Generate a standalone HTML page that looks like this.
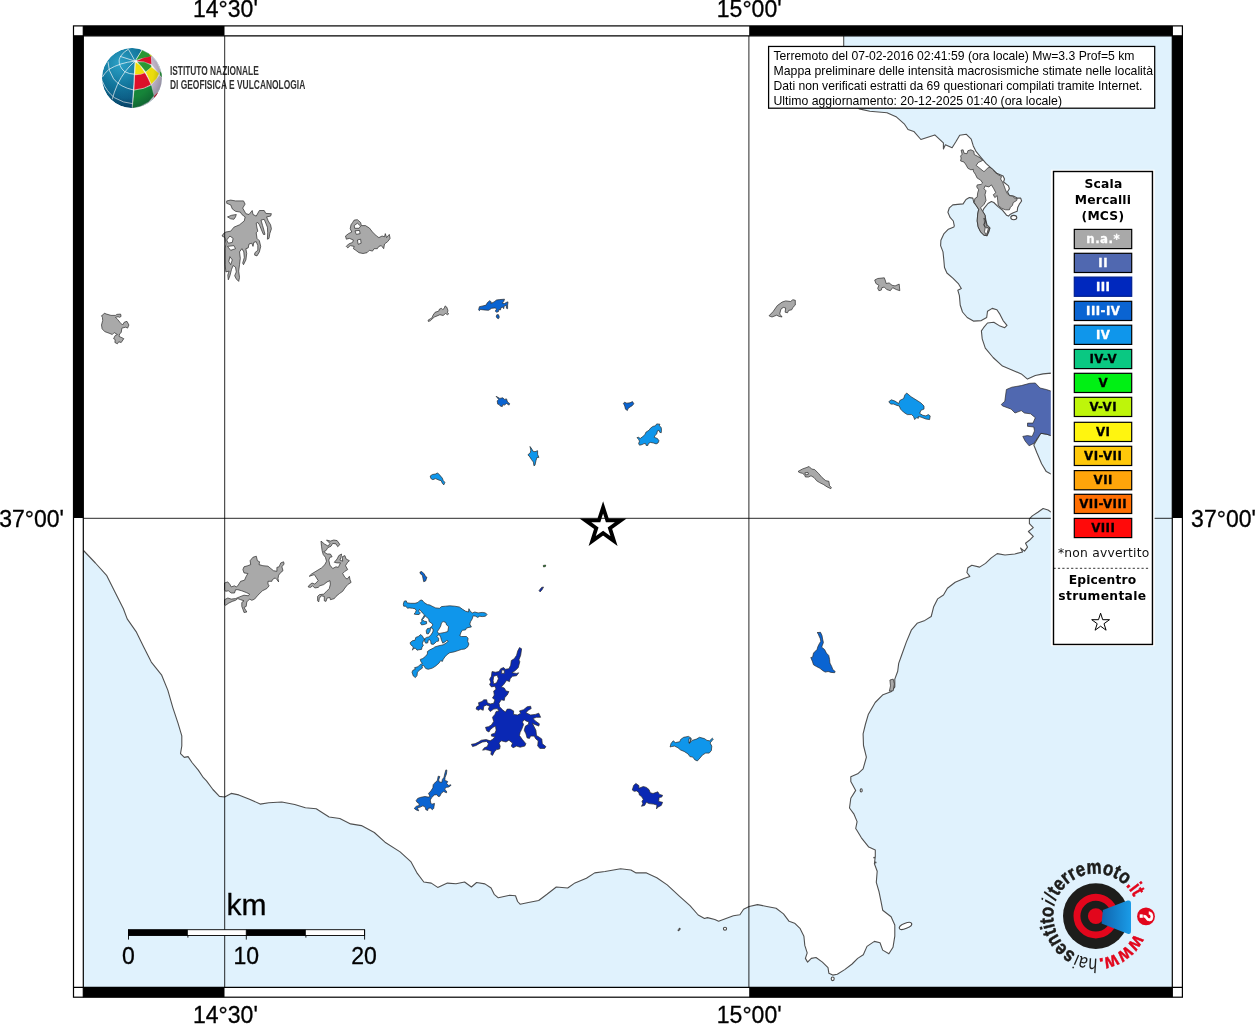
<!DOCTYPE html>
<html lang="it"><head><meta charset="utf-8"><title>Mappa intensit&agrave; macrosismiche</title>
<style>html,body{margin:0;padding:0;background:#fff}body{width:1255px;height:1024px;overflow:hidden}svg{display:block}.h{font-family:"Liberation Sans",Arial,Helvetica,sans-serif}.d{font-family:"DejaVu Sans","Liberation Sans",sans-serif}</style></head><body>
<svg width="1255" height="1024" viewBox="0 0 1255 1024">
<rect width="1255" height="1024" fill="#fff"/>
<defs><clipPath id="mapclip"><rect x="83.3" y="35.8" width="1089" height="951.5"/></clipPath>

<radialGradient id="gblue" cx="0.3" cy="0.25" r="0.85"><stop offset="0" stop-color="#2da4ca"/><stop offset="0.45" stop-color="#12789f"/><stop offset="1" stop-color="#074873"/></radialGradient>
<radialGradient id="gshade" cx="0.42" cy="0.4" r="0.62"><stop offset="0" stop-color="#001020" stop-opacity="0"/><stop offset="0.7" stop-color="#001020" stop-opacity="0.04"/><stop offset="1" stop-color="#001020" stop-opacity="0.3"/></radialGradient>
<clipPath id="gclip"><circle cx="512" cy="512" r="452"/></clipPath>
<linearGradient id="wedge" x1="0" y1="0" x2="1" y2="0"><stop offset="0" stop-color="#0f64ad"/><stop offset="1" stop-color="#1a9ce8"/></linearGradient>

</defs>
<g clip-path="url(#mapclip)">
<path d="M83.5,550.5 L95.4,563 L106.8,575.7 L115.7,593.5 L123.4,608.8 L127.2,618.9 L136.1,631.6 L143.7,646.9 L151.3,662.1 L161.5,674.8 L167.8,690.1 L172.9,707.8 L178,723.1 L181.8,735.8 L181.8,746 L180.5,753.6 L184.3,757.4 L188.1,756.6 L192,762.5 L198.3,770.1 L203.4,777.7 L206.5,780.9 L212.9,789.5 L219.4,796.4 L224.7,797 L231.2,793.4 L238.7,794.9 L249.5,799.2 L260.2,804.1 L268.8,802.8 L281.8,802 L294.7,804.5 L305.4,807.8 L316.2,808.8 L329.1,817 L339.8,818.5 L350.6,823.9 L361.4,825.6 L374.3,832.5 L385,842.2 L400.1,851.9 L410.8,861.6 L417.3,873.4 L423.8,882 L431.3,883.1 L437.7,887.4 L447.4,883.1 L456,883.7 L464.6,882 L468,884.5 L471.4,887 L476.6,882.5 L484.9,883.9 L491.1,888 L494.2,894.3 L498.3,897.8 L509.7,895.3 L515.5,895.7 L517.6,901.5 L520.1,904.2 L528.4,902.5 L538.7,900.5 L547,894.3 L556.3,887 L567.7,888 L575,882.9 L586.4,878.3 L594.7,872.9 L605,871.5 L620.6,868.8 L630.9,870 L636.1,872.9 L646.5,872.9 L656.8,877.7 L667.2,884.9 L679.6,896.3 L690,905.7 L698.2,915 L704.5,918.5 L707.4,917.6 L714.8,919.5 L718.6,921.3 L726,918.5 L733.4,915.8 L739.9,914.8 L743.6,909.3 L749.2,906.5 L757.5,904.6 L766.8,906.5 L776.1,908.3 L783.5,913.9 L789.1,921.3 L794.6,923.2 L800.2,928.7 L803.9,936.2 L804.8,945.4 L807.2,952.9 L805.4,958.4 L807.6,962.1 L811.3,958.4 L816,957.5 L822.4,962.1 L828,967.7 L828.9,973.3 L832.7,975.1 L837.3,974.2 L844.7,969.6 L852.1,964 L857.7,958.4 L863.3,954.7 L867,946.4 L874.4,941.4 L880,942.7 L882.7,950.1 L888.9,953.8 L893,947.3 L894.8,936.2 L894.8,925 L891.1,916.7 L882.7,910.2 L880.9,900.9 L879,891.6 L876.3,882.4 L877.2,871.2 L874.4,863.8 L875.3,856.4 L875.3,849.9 L868.8,847.1 L861.4,837.8 L857,830.5 L855.7,828.5 L857.1,821.6 L853.8,813.8 L849.5,808 L850.8,798.2 L855.7,790.4 L850.8,781.6 L850.8,776.7 L857.7,773.8 L863.1,768.9 L866.4,757.2 L863.5,745.5 L863.1,733.8 L865.5,724 L868.4,714.2 L875.2,702.5 L883,694.7 L890.9,691.8 L894.8,686.9 L894.8,679.1 L897.7,671.3 L898.7,663.4 L901.5,655.5 L906.4,641.9 L911.3,630.2 L917.1,623.3 L924.9,620.4 L931.2,616.5 L933.7,606.7 L937.6,598.9 L943.5,595 L947.4,588.2 L955.2,582.3 L964,578.4 L969.8,576.4 L966.9,572.5 L967.9,567.7 L971.8,565.3 L979.6,567.1 L985.5,563.4 L991.3,557.9 L997.2,553.6 L1005,555 L1014.8,554 L1022.6,552 L1020.6,548.1 L1024.5,551.1 L1027.5,547.1 L1025.5,543.2 L1029.4,540.3 L1033.3,536.4 L1028.4,531.5 L1033.3,527.6 L1029.4,523.7 L1029.4,518.8 L1032.3,515.9 L1038.2,512 L1043.1,508.5 L1048,510 L1050.9,512 L1060,500 L1060,480 L1050.9,473.9 L1046.3,471.6 L1041.6,463.8 L1036.9,452.8 L1033.8,445 L1040.8,433.3 L1046.3,434.1 L1050.9,435.6 L1060,430 L1060,380 L1050.9,373.1 L1043.1,373.9 L1035.3,375.5 L1027.5,379.1 L1021.3,373.9 L1011.9,370 L1002.5,366.1 L993.1,357.5 L985.3,348.1 L982.2,338.8 L981.4,330.9 L983.6,327.7 L987.5,323 L993.8,322.2 L1000,326.1 L1004.7,327.7 L1007,325.3 L1003.1,320.6 L1000,314.4 L996.9,309.7 L992.2,308.4 L987.5,311.3 L986.7,317.5 L981.3,320.6 L973.4,321.1 L967.2,317.5 L962.5,312 L960.2,305 L959.4,295.6 L957.8,290.2 L961.3,288.6 L958.6,283.9 L953.1,278.4 L946.9,273 L944.5,267.5 L943.8,259.7 L943,251.9 L940.6,245.6 L940.9,240.2 L943.8,233.9 L948.4,229.2 L953.9,226.9 L954.3,225.9 L953.3,221 L949.9,217.1 L947.9,212.2 L949.4,207.8 L952.8,204.9 L957.7,204.4 L963.1,203.9 L966,199.5 L969.4,197.6 L972.8,198.1 L973.8,202.5 L976.2,205.4 L978.7,209.3 L977.7,214.2 L977.2,221 L978.2,226.9 L980.6,231.8 L984,235.2 L987,235.7 L988.9,231.8 L989.9,227.9 L987,224.9 L986,221 L985,215.2 L982.6,211.3 L984,208.3 L988,203.5 L991.4,201.5 L993.8,202.5 L997.7,206.4 L1002.6,210.3 L1006.5,215.2 L1008.5,216.1 L1010.4,214.2 L1013.3,212.7 L1017.2,211.3 L1017.7,207.4 L1019.2,204.4 L1021.6,201 L1020.7,198.1 L1017.2,198.1 L1013.3,196.1 L1009.4,195.6 L1007.5,191.7 L1009.4,188.8 L1008.5,185.9 L1003.6,182 L1004.5,179 L1003.1,176.1 L996.7,173.2 L990.9,167.8 L986,163.4 L981.1,157.6 L976.2,151.7 L973.3,145.9 L971.2,139.1 L966.4,134.3 L959.7,135.3 L956,141.5 L952.1,147.7 L945.4,144.8 L943.4,149 L943.4,142.9 L934.8,134.9 L927.8,137.2 L920.9,139.5 L913.8,131.4 L908,129.5 L904.2,123.8 L896.6,117.1 L887,112.7 L869.8,111.3 L859.2,108.9 L850,100 L843.7,60 L843.7,36 L1177.3,30.8 L1177.3,992.3 L78.3,992.3 L78.3,550.5Z" fill="#e0f2fd" stroke="none"/>
<path d="M83.5,550.5 L95.4,563 L106.8,575.7 L115.7,593.5 L123.4,608.8 L127.2,618.9 L136.1,631.6 L143.7,646.9 L151.3,662.1 L161.5,674.8 L167.8,690.1 L172.9,707.8 L178,723.1 L181.8,735.8 L181.8,746 L180.5,753.6 L184.3,757.4 L188.1,756.6 L192,762.5 L198.3,770.1 L203.4,777.7 L206.5,780.9 L212.9,789.5 L219.4,796.4 L224.7,797 L231.2,793.4 L238.7,794.9 L249.5,799.2 L260.2,804.1 L268.8,802.8 L281.8,802 L294.7,804.5 L305.4,807.8 L316.2,808.8 L329.1,817 L339.8,818.5 L350.6,823.9 L361.4,825.6 L374.3,832.5 L385,842.2 L400.1,851.9 L410.8,861.6 L417.3,873.4 L423.8,882 L431.3,883.1 L437.7,887.4 L447.4,883.1 L456,883.7 L464.6,882 L468,884.5 L471.4,887 L476.6,882.5 L484.9,883.9 L491.1,888 L494.2,894.3 L498.3,897.8 L509.7,895.3 L515.5,895.7 L517.6,901.5 L520.1,904.2 L528.4,902.5 L538.7,900.5 L547,894.3 L556.3,887 L567.7,888 L575,882.9 L586.4,878.3 L594.7,872.9 L605,871.5 L620.6,868.8 L630.9,870 L636.1,872.9 L646.5,872.9 L656.8,877.7 L667.2,884.9 L679.6,896.3 L690,905.7 L698.2,915 L704.5,918.5 L707.4,917.6 L714.8,919.5 L718.6,921.3 L726,918.5 L733.4,915.8 L739.9,914.8 L743.6,909.3 L749.2,906.5 L757.5,904.6 L766.8,906.5 L776.1,908.3 L783.5,913.9 L789.1,921.3 L794.6,923.2 L800.2,928.7 L803.9,936.2 L804.8,945.4 L807.2,952.9 L805.4,958.4 L807.6,962.1 L811.3,958.4 L816,957.5 L822.4,962.1 L828,967.7 L828.9,973.3 L832.7,975.1 L837.3,974.2 L844.7,969.6 L852.1,964 L857.7,958.4 L863.3,954.7 L867,946.4 L874.4,941.4 L880,942.7 L882.7,950.1 L888.9,953.8 L893,947.3 L894.8,936.2 L894.8,925 L891.1,916.7 L882.7,910.2 L880.9,900.9 L879,891.6 L876.3,882.4 L877.2,871.2 L874.4,863.8 L875.3,856.4 L875.3,849.9 L868.8,847.1 L861.4,837.8 L857,830.5 L855.7,828.5 L857.1,821.6 L853.8,813.8 L849.5,808 L850.8,798.2 L855.7,790.4 L850.8,781.6 L850.8,776.7 L857.7,773.8 L863.1,768.9 L866.4,757.2 L863.5,745.5 L863.1,733.8 L865.5,724 L868.4,714.2 L875.2,702.5 L883,694.7 L890.9,691.8 L894.8,686.9 L894.8,679.1 L897.7,671.3 L898.7,663.4 L901.5,655.5 L906.4,641.9 L911.3,630.2 L917.1,623.3 L924.9,620.4 L931.2,616.5 L933.7,606.7 L937.6,598.9 L943.5,595 L947.4,588.2 L955.2,582.3 L964,578.4 L969.8,576.4 L966.9,572.5 L967.9,567.7 L971.8,565.3 L979.6,567.1 L985.5,563.4 L991.3,557.9 L997.2,553.6 L1005,555 L1014.8,554 L1022.6,552 L1020.6,548.1 L1024.5,551.1 L1027.5,547.1 L1025.5,543.2 L1029.4,540.3 L1033.3,536.4 L1028.4,531.5 L1033.3,527.6 L1029.4,523.7 L1029.4,518.8 L1032.3,515.9 L1038.2,512 L1043.1,508.5 L1048,510 L1050.9,512 L1060,500 L1060,480 L1050.9,473.9 L1046.3,471.6 L1041.6,463.8 L1036.9,452.8 L1033.8,445 L1040.8,433.3 L1046.3,434.1 L1050.9,435.6 L1060,430 L1060,380 L1050.9,373.1 L1043.1,373.9 L1035.3,375.5 L1027.5,379.1 L1021.3,373.9 L1011.9,370 L1002.5,366.1 L993.1,357.5 L985.3,348.1 L982.2,338.8 L981.4,330.9 L983.6,327.7 L987.5,323 L993.8,322.2 L1000,326.1 L1004.7,327.7 L1007,325.3 L1003.1,320.6 L1000,314.4 L996.9,309.7 L992.2,308.4 L987.5,311.3 L986.7,317.5 L981.3,320.6 L973.4,321.1 L967.2,317.5 L962.5,312 L960.2,305 L959.4,295.6 L957.8,290.2 L961.3,288.6 L958.6,283.9 L953.1,278.4 L946.9,273 L944.5,267.5 L943.8,259.7 L943,251.9 L940.6,245.6 L940.9,240.2 L943.8,233.9 L948.4,229.2 L953.9,226.9 L954.3,225.9 L953.3,221 L949.9,217.1 L947.9,212.2 L949.4,207.8 L952.8,204.9 L957.7,204.4 L963.1,203.9 L966,199.5 L969.4,197.6 L972.8,198.1 L973.8,202.5 L976.2,205.4 L978.7,209.3 L977.7,214.2 L977.2,221 L978.2,226.9 L980.6,231.8 L984,235.2 L987,235.7 L988.9,231.8 L989.9,227.9 L987,224.9 L986,221 L985,215.2 L982.6,211.3 L984,208.3 L988,203.5 L991.4,201.5 L993.8,202.5 L997.7,206.4 L1002.6,210.3 L1006.5,215.2 L1008.5,216.1 L1010.4,214.2 L1013.3,212.7 L1017.2,211.3 L1017.7,207.4 L1019.2,204.4 L1021.6,201 L1020.7,198.1 L1017.2,198.1 L1013.3,196.1 L1009.4,195.6 L1007.5,191.7 L1009.4,188.8 L1008.5,185.9 L1003.6,182 L1004.5,179 L1003.1,176.1 L996.7,173.2 L990.9,167.8 L986,163.4 L981.1,157.6 L976.2,151.7 L973.3,145.9 L971.2,139.1 L966.4,134.3 L959.7,135.3 L956,141.5 L952.1,147.7 L945.4,144.8 L943.4,149 L943.4,142.9 L934.8,134.9 L927.8,137.2 L920.9,139.5 L913.8,131.4 L908,129.5 L904.2,123.8 L896.6,117.1 L887,112.7 L869.8,111.3 L859.2,108.9 L850,100 L843.7,60 L843.7,36" fill="none" stroke="#505050" stroke-width="1.1" stroke-linejoin="round"/>
<ellipse cx="1013.8" cy="217.6" rx="3" ry="2.2" fill="#fff" stroke="#4a4a4a" stroke-width="1.1"/>
<ellipse cx="861.2" cy="790.4" rx="1" ry="1.6" fill="#fff" stroke="#4a4a4a" stroke-width="1.1"/>
<ellipse cx="725" cy="928.7" rx="1.6" ry="1.4" fill="#fff" stroke="#4a4a4a" stroke-width="1.1"/>
<ellipse cx="832.7" cy="978.8" rx="1.5" ry="1.8" fill="#fff" stroke="#4a4a4a" stroke-width="1.1"/>
<ellipse cx="679.6" cy="928.9" rx="0.5" ry="0.5" fill="#fff" stroke="#4a4a4a" stroke-width="1.1"/>
<ellipse cx="678.6" cy="930.3" rx="0.5" ry="0.5" fill="#fff" stroke="#4a4a4a" stroke-width="1.1"/>
<ellipse cx="874.2" cy="857.6" rx="0.4" ry="0.4" fill="#fff" stroke="#4a4a4a" stroke-width="1.1"/>
<ellipse cx="875.6" cy="862.5" rx="0.4" ry="0.4" fill="#fff" stroke="#4a4a4a" stroke-width="1.1"/>
<ellipse cx="905.5" cy="925.9" rx="6.6" ry="2.6" transform="rotate(-22 905.5 925.9)" fill="#fff" stroke="#4a4a4a" stroke-width="1.2"/>
<path d="M226.7,200.9 L230.7,200.1 L235.5,200.9 L243.5,200.9 L245.1,204.1 L242.7,208.1 L245.9,213.7 L249,214.5 L252.2,210.5 L253,214.5 L256.2,216.1 L259.4,210.5 L264.2,210.5 L265.8,213.4 L271.4,213.7 L270.6,216.1 L266.6,216.9 L268.2,220.9 L270.6,224.8 L271.4,228.8 L269.8,233.6 L269,238.4 L267.4,239.2 L267.7,232.8 L267.4,227.2 L265.8,223.2 L264.2,219.3 L261,220.1 L262.6,225.6 L264.2,231.2 L265,234.4 L263.4,234.4 L261,228.8 L259.4,224.8 L257.8,222.5 L256.2,223.2 L257,228 L257.8,231.2 L256.2,232.8 L257,238.4 L259.4,240.8 L260.7,246.4 L259.4,251.9 L257,255.9 L254.6,255.1 L254.9,252.7 L257.8,250.3 L257.8,245.6 L256.2,241.6 L253.8,242.4 L253,246.4 L251.8,243.2 L249,244 L248.2,247.9 L245.9,248.7 L246.7,253.5 L245.9,259.9 L243.5,264.7 L242.7,263.1 L244.3,257.5 L243.8,251.9 L241.9,248.7 L239.5,251.9 L240.3,258.3 L239.5,264.7 L238.7,271.1 L239.5,277.4 L238.7,281.4 L236.3,279 L234.7,275.8 L236.3,271.9 L235.5,267.1 L233.1,265.5 L231.5,269.5 L229.9,275.8 L228.3,279.8 L227.8,275 L229.1,271.1 L225.9,271.9 L225.1,264.7 L225.1,248.7 L225.9,244 L225.1,237.6 L222,236 L223.5,233.6 L225.9,232 L230.7,231.2 L233.9,227.2 L239.5,224.8 L244.3,220.9 L245.1,216.9 L241.9,214.5 L240.3,212.1 L235.5,211.3 L232.3,208.9 L230.7,204.9 L226.7,203.3ZM226.7,240 L229.9,236 L233.1,238.4 L232.3,242.4 L228.3,243.2ZM227.5,246.4 L233.9,245.6 L235.5,248.7 L230.7,250.3ZM229.9,256.7 L232.3,259.9 L230.7,264.7 L228.8,261.5Z" fill="#a9a9a9" fill-rule="evenodd" stroke="#2a2a2a" stroke-width="0.7" stroke-linejoin="round"/>
<path d="M227.5,216.9 L231.5,215.3 L236.3,214.5 L235.5,216.9 L233.9,219.3 L230.7,218.8Z" fill="#a9a9a9" fill-rule="evenodd" stroke="#2a2a2a" stroke-width="0.7" stroke-linejoin="round"/>
<path d="M354.2,220.1 L357.4,219.7 L360.6,222.5 L361.4,225.6 L365.4,225.6 L369.4,228 L372.5,232 L376.5,236 L378.9,237.6 L382.1,236 L384.5,236.8 L385.3,233.6 L386.6,237.6 L389.3,234.4 L390.1,238.4 L387.7,241.6 L384.5,244 L383.7,248.7 L381.3,245.6 L378.9,246.4 L377.3,248.7 L374.1,248.7 L372.5,251.1 L369.4,250.3 L367,252.7 L363,253.5 L359,252.7 L355.8,250.3 L353.4,248.7 L354.2,246.4 L350.2,245.6 L347.8,247.9 L346.3,246.4 L348.6,244 L352.6,242.4 L353.4,240 L349.4,238.4 L346.3,239.2 L345.5,236 L348.6,233.6 L351.8,232 L350.2,228.8 L351,224.8 L352.6,222.5ZM354.2,225.6 L357.4,223.2 L360.6,226.1 L359,228.3 L354.7,228.3ZM355,230.9 L359.5,230.4 L360.1,233.6 L356.3,234.4ZM357.4,240 L360.6,239.2 L361.1,243.2 L358.2,244.3Z" fill="#a9a9a9" fill-rule="evenodd" stroke="#2a2a2a" stroke-width="0.7" stroke-linejoin="round"/>
<path d="M104.3,313.2 L106.6,314.1 L111,315.4 L115.5,315.4 L116.8,314.4 L120.6,314.1 L121.1,316.4 L119.6,317.3 L118,316.7 L115.5,317.3 L117.4,319.2 L120,322.4 L122.5,325 L124.4,322.1 L127,321.4 L128.9,325 L127.6,328.1 L125.7,327.2 L121.9,328.1 L121.2,332.6 L119.6,333.9 L119,336.4 L121.9,337.7 L123.8,338.7 L121.2,342.5 L118.7,341.8 L117.4,343.8 L114.9,342.5 L115.2,339.6 L113.6,338.7 L115.2,335.5 L117.4,334.5 L114.2,332.6 L112.3,334.5 L109.1,333.2 L104.7,331.6 L102.1,328.8 L101.5,325 L102.7,320.5 L102.4,317.3 L101.5,315.7 L103.1,314.8Z" fill="#a9a9a9" fill-rule="evenodd" stroke="#2a2a2a" stroke-width="0.7" stroke-linejoin="round"/>
<path d="M428,320.3 L430.4,318.7 L432,317.9 L433.1,315.1 L435.1,312.3 L438.7,311.1 L439.5,309.1 L441.5,308.3 L442.7,309.5 L444.3,308.3 L445.1,305.9 L446.7,307.1 L447.9,310.3 L447.5,312.7 L448.7,313.9 L447.5,314.7 L445.5,313.5 L443.1,315.5 L439.9,314.7 L437.1,315.9 L434.3,317.1 L432,319.1 L430.4,320.7 L428.4,321.5Z" fill="#a9a9a9" fill-rule="evenodd" stroke="#2a2a2a" stroke-width="0.7" stroke-linejoin="round"/>
<path d="M478.6,309.9 L479.4,306.7 L482.9,305.9 L486.1,305.1 L487.3,302.7 L489.7,300.7 L491.3,301.9 L490.9,303.5 L494.1,301.9 L496.5,300 L499.7,299.6 L504.5,299.2 L503.7,301.5 L502.1,303.1 L504.5,303.5 L506.5,302.3 L508,301.9 L507.6,305.1 L507.6,308.7 L506.5,308.3 L506.1,305.1 L504.1,306.3 L503.7,308.7 L502.5,307.1 L500.9,307.9 L500.5,309.9 L498.9,309.5 L498.5,311.5 L496.5,312.3 L495.3,311.1 L496.5,309.1 L495.3,307.9 L491.7,308.3 L488.5,310.3 L483.7,309.9 L480.6,309.5 L479.4,310.7Z" fill="#0a64d2" fill-rule="evenodd" stroke="#2a2a2a" stroke-width="0.7" stroke-linejoin="round"/>
<path d="M496.9,314.7 L498.5,314.7 L499.3,317.1 L498.5,318.7 L496.9,317.9 L496.3,316.3Z" fill="#0a64d2" fill-rule="evenodd" stroke="#2a2a2a" stroke-width="0.7" stroke-linejoin="round"/>
<path d="M769,315.8 L773.1,311.6 L777.3,305.6 L782.1,302.1 L785.7,300.9 L790.5,301.5 L792.9,299.7 L795.3,300.3 L795.3,305.1 L792.9,307.4 L791.7,309.8 L788.7,310.4 L787.5,312.8 L785.1,312.2 L785.7,308 L783.3,307.4 L780.9,309.2 L779.7,314 L782.1,317 L779.1,316.4 L776.7,315.2 L772,317Z" fill="#a9a9a9" fill-rule="evenodd" stroke="#2a2a2a" stroke-width="0.7" stroke-linejoin="round"/>
<path d="M874.7,280 L877.7,278.5 L884.3,277.8 L885.5,281.1 L886.1,283.5 L889.1,282.9 L892.1,285.3 L895.1,285.9 L899.2,284.1 L899.8,290.7 L896.2,289.5 L892.7,287.7 L890.3,290.7 L886.7,289.5 L884.3,287.1 L881.9,287.7 L881.3,290.1 L878.9,290.7 L877.7,288.3 L878.9,285.3 L875.9,283.5Z" fill="#a9a9a9" fill-rule="evenodd" stroke="#2a2a2a" stroke-width="0.7" stroke-linejoin="round"/>
<path d="M961.1,150.2 L963.1,149.8 L964,153.2 L967,153.7 L967.9,150.7 L970.9,149.8 L973.8,151.2 L974.3,154.6 L977.2,156.1 L980.6,158.1 L982.6,160.5 L978.2,162.5 L976.2,165.4 L984,171.7 L988,167.8 L989.9,167.3 L992.8,169.3 L994.8,172.2 L998.2,174.7 L1001.6,176.6 L1000.6,179 L1002.6,182 L1004.1,185.9 L1005.5,189.8 L1007,193.2 L1009.4,195.6 L1012.4,196.1 L1015.3,198.6 L1017.2,198.6 L1016.7,200.5 L1013.3,202.5 L1012.4,205.4 L1010.4,207.4 L1009.4,209.8 L1005.5,209.8 L1001.6,208.3 L998.2,205.4 L997.7,200.5 L997.2,195.6 L994.8,197.6 L993.3,194.7 L995.8,192.7 L993.8,188.8 L991.4,184.9 L988.9,186.9 L985,185.9 L984,188.8 L986,190.8 L985,194.7 L986,200.5 L984,204.4 L980.6,207.8 L982.6,211.3 L985,215.2 L985.5,221 L984,224.9 L986,227.9 L988.9,227.9 L989.9,228.3 L988,232.2 L987,235.7 L984,235.2 L980.6,231.8 L978.2,226.9 L977.2,221 L977.7,214.2 L978.7,209.3 L976.2,205.4 L974.3,202.5 L974.8,198.6 L977.2,197.1 L977.7,192.7 L978.7,189.8 L976.7,186.9 L977.2,184.9 L981.1,184.4 L982.6,183 L980.6,180 L977.2,178.1 L975.3,174.2 L973.3,171.2 L973.3,169.3 L970.9,169.8 L967.9,168.3 L966,164.9 L964,162 L960.6,161 L961.1,158.1 L960.6,156.1 L962.1,154.2ZM984,218.1 L985.8,221.5 L986.5,225.9 L988.4,228.3 L987.2,232.7 L986,234.7 L984.5,231.8 L985.2,227.9 L983.9,224.9 L984.5,222Z" fill="#a9a9a9" fill-rule="evenodd" stroke="#2a2a2a" stroke-width="0.7" stroke-linejoin="round"/>
<path d="M888.8,401.7 L891.3,399.8 L895,401.1 L898.7,403.5 L899.9,400.4 L903.6,398.6 L904.9,394.9 L906.7,393 L911,396.7 L916,399.8 L920.9,402.9 L924,406 L924,409.1 L920.9,410.3 L919.7,413.4 L922.8,415.3 L925.9,415.9 L928.3,414.6 L930.2,415.9 L929.6,419.6 L925.9,419 L920.9,417.1 L918.4,416.5 L918.4,418.3 L916.6,417.7 L914.7,419.6 L913.5,416.5 L911.6,414.6 L907.3,414.6 L903.6,412.2 L900.5,409.1 L899.3,406 L896.8,405.4 L893.7,404.1 L890.7,404.1Z" fill="#0f96eb" fill-rule="evenodd" stroke="#2a2a2a" stroke-width="0.7" stroke-linejoin="round"/>
<path d="M798,471.5 L802.4,469 L806.1,467.7 L809.1,466.5 L811.6,469 L814.7,469.6 L818.4,473.3 L822.1,477.6 L825.8,480.7 L828.9,481.3 L829.5,485.7 L831.4,487.5 L830.8,488.7 L827.1,486.9 L823.3,484.4 L819.6,482.6 L816.6,480.7 L814.1,477.6 L811,475.8 L808.5,477 L805.4,477 L804.8,475.2 L802.4,473.3 L799.9,472.7ZM804.8,472.9 L807.9,472.4 L808.5,474.2 L805.8,474.9Z" fill="#a9a9a9" fill-rule="evenodd" stroke="#2a2a2a" stroke-width="0.7" stroke-linejoin="round"/>
<path d="M496.1,396.3 L499.8,398.4 L502.9,397.8 L504.4,399.4 L506.5,398.9 L507.5,402 L509.6,403.5 L509.1,405.1 L506.5,403.5 L504.4,405.1 L502.9,404.6 L502.3,406.6 L500.3,406.1 L499.2,404.6 L497.7,404.1 L497.2,400.9 L498.7,399.4Z" fill="#0a64d2" fill-rule="evenodd" stroke="#2a2a2a" stroke-width="0.7" stroke-linejoin="round"/>
<path d="M530,446.5 L531.9,449.1 L532.9,451.2 L535,451.7 L537.6,450.7 L537.6,454.3 L538.9,457.4 L537,457.4 L536,460.5 L535,465.2 L533.9,465.7 L533.4,462.1 L531.4,459.5 L529.8,456.9 L527.9,454.8 L530.3,452.7 L530.8,450.2Z" fill="#0f96eb" fill-rule="evenodd" stroke="#2a2a2a" stroke-width="0.7" stroke-linejoin="round"/>
<path d="M430.2,476 L432.4,474.5 L435.5,474 L437.6,472.9 L439.7,475 L442.3,478.1 L443.3,480.7 L444.9,482.3 L443.8,484.9 L442.3,483.3 L441.2,480.7 L439.2,480.2 L435.5,478.6 L432.9,479.7 L430.9,478.6Z" fill="#0f96eb" fill-rule="evenodd" stroke="#2a2a2a" stroke-width="0.7" stroke-linejoin="round"/>
<path d="M623.3,403.8 L624.5,402.2 L626.8,403.2 L630,402.8 L632.5,401.6 L633.8,403.8 L632.2,405.7 L630,407 L628,408.6 L627.4,410.5 L625.5,409.2 L624.9,406.7 L624.2,404.7Z" fill="#0a64d2" fill-rule="evenodd" stroke="#2a2a2a" stroke-width="0.7" stroke-linejoin="round"/>
<path d="M637,437.6 L638.6,437.3 L640.2,438.5 L642.7,436.6 L644.9,434.7 L645.9,432.2 L649.1,430.2 L650.4,428.3 L652.9,426.4 L655.4,425.8 L656.7,423.9 L659.9,424.2 L659.3,425.8 L661.2,427.4 L661.5,430.2 L661.2,432.8 L659.6,432.2 L659,430.2 L657.4,430.9 L656.7,434.1 L655.1,435.3 L654.2,437.3 L657.4,438.5 L659,440.8 L658,443 L656.1,443.9 L653.5,443 L650.4,442.4 L648.4,443.6 L647.8,445.5 L646.2,445.5 L645.6,443.6 L644,443.6 L642.1,444.6 L639.5,445.2 L638.6,443.6 L639.5,441.1 L638.6,439.5Z" fill="#0f96eb" fill-rule="evenodd" stroke="#2a2a2a" stroke-width="0.7" stroke-linejoin="round"/>
<path d="M403.3,604.1 L404.2,601.2 L406.2,600.8 L407.1,602.9 L410.8,603.3 L415,603.3 L417.9,602.5 L419.9,600.4 L422,600 L424.1,602.5 L427.4,604.6 L429.9,605 L432,606.2 L435.7,607.9 L439.5,608.3 L441.5,606.6 L445.3,606.2 L449.8,605.8 L454.8,606.2 L459.4,607 L462.3,609.1 L465.6,611.2 L468.5,612 L468.9,608.7 L470.2,611.2 L472.3,612.9 L474.8,612 L478.1,612.9 L482.2,612.4 L485.5,612.9 L487,614.5 L485.5,616.2 L482.2,616.6 L479.7,616.2 L477.7,617.4 L475.6,616.2 L473.1,615.8 L472.3,618.7 L470.6,621.6 L469.8,624.1 L471.4,627 L468.9,627.4 L466.4,628.2 L465.6,629.9 L462.3,630.3 L461,632.4 L459.8,635.7 L461.5,636.5 L466.4,636.5 L468.1,638.2 L467.7,641.5 L468.9,644 L467.7,646.9 L464.8,649 L461.5,649.4 L458.1,650.6 L454,651.9 L449.8,652.7 L447.3,654.4 L444.9,656.9 L443.2,659.4 L442.4,661.4 L440.7,660.6 L439,663.1 L435.7,666 L432.4,668.1 L428.2,669.3 L425.7,668.5 L423.7,665.6 L422,665.6 L422.4,668.1 L419.9,669.8 L417.4,672.2 L417,675.6 L415.4,677.6 L413.3,676 L412,672.2 L412.9,670.2 L415.4,669.3 L414.5,667.7 L417.9,666.8 L420.3,664.4 L422.4,663.5 L420.8,661.4 L420.3,659.4 L422.8,658.5 L425.3,656.5 L427.4,654 L427.4,651.5 L429.9,649.8 L433.2,648.2 L434.9,646.9 L439,645.7 L443.2,644.8 L446.5,642.8 L448.2,641.1 L446.9,640.3 L444.9,641.9 L442.8,643.2 L441.5,640.3 L440.7,637.4 L439.5,634.9 L438.2,634.9 L437,636.5 L438.6,638.2 L438.6,641.1 L436.5,641.5 L434.9,643.2 L433.2,644.4 L431.1,644 L430.7,641.5 L429.5,639.4 L428.2,640.3 L427.8,642.8 L425.7,643.2 L424.5,641.1 L424.9,639 L423.7,640.3 L422.4,643.2 L423.3,645.7 L422,646.9 L421.6,649.4 L418.7,649.8 L417,650.2 L415.4,648.2 L413.3,648.6 L412.5,650.2 L413.3,646.9 L410.8,644.8 L410,642.8 L412.5,640.7 L415,640.3 L415.8,637.4 L418.3,636.5 L420.8,634.5 L422.4,636.1 L424.1,639 L426.6,637.4 L428.7,636.9 L430.7,635.3 L432.8,632 L433.2,629.9 L432,627.8 L430.7,628.2 L429.9,631.5 L428.2,634 L426.6,633.6 L426.2,630.7 L427.4,628.6 L429.5,628.2 L431.6,626.6 L432.8,624.9 L431.6,623.2 L429.1,621.6 L428.7,619.1 L426.6,617 L424.9,615.8 L424.1,617.8 L422.4,619.5 L424.1,621.2 L426.6,621.6 L426.6,623.7 L424.1,624.5 L421.6,624.9 L420.3,622.8 L422,621.6 L421.6,619.5 L423.3,617 L424.5,614.9 L422.4,612.9 L420.8,610.8 L419.5,609.5 L418.7,611.2 L420.3,612.9 L419.1,614.5 L416.2,614.5 L414.1,614.1 L415.4,612.4 L416.2,610.4 L415,608.7 L412.5,608.3 L409.1,607.9 L407.5,608.3 L405.8,606.2 L403.7,606.2ZM441.5,622.8 L443.2,621.6 L445.7,622.4 L446.5,624.9 L448.6,626.6 L447.8,631.5 L444.9,632.4 L440.7,633.2 L438.6,633.6 L437.4,631.5 L439,629.1 L440.7,626.1Z" fill="#0f96eb" fill-rule="evenodd" stroke="#2a2a2a" stroke-width="0.7" stroke-linejoin="round"/>
<path d="M419.9,572.1 L421.8,571.5 L424.3,574 L425.6,576.6 L426.9,577.2 L425.6,581 L423.7,581.7 L423,578.5 L422.4,575.3 L420.5,574Z" fill="#0a64d2" fill-rule="evenodd" stroke="#2a2a2a" stroke-width="0.7" stroke-linejoin="round"/>
<path d="M541.6,587.4 L543.5,587 L542.2,589.6 L540.1,591.9 L539.1,590.6Z" fill="#0a28b4" fill-rule="evenodd" stroke="#2a2a2a" stroke-width="0.7" stroke-linejoin="round"/>
<path d="M543.3,565.4 L545.7,565.1 L545.4,566.6 L543.5,566.9Z" fill="#10a010" fill-rule="evenodd" stroke="#2a2a2a" stroke-width="0.7" stroke-linejoin="round"/>
<path d="M519.5,647.6 L521.6,648.8 L520.7,655.2 L518.9,659.9 L519.8,661.7 L518.3,667.5 L515.4,670.5 L511.9,672.8 L516.6,673.4 L518.7,672.8 L516.6,675.7 L512.5,676.3 L510.1,678.7 L509.5,681.6 L506.6,680.4 L503.7,684.5 L501.3,686.9 L504.3,688 L506,691 L508.9,691.6 L507.2,695.1 L504.8,697.4 L504.3,700.4 L501.3,699.8 L499,703.3 L499.6,706.8 L502.5,709.7 L505.4,712.1 L507.2,709.1 L510.1,709.1 L513.6,710.9 L513.6,714.4 L517.7,715 L520.7,713.2 L519.5,710.9 L523.6,709.7 L527.1,706.8 L530.6,706.2 L531.2,708.6 L528.3,710.3 L525.9,712.7 L530.6,715 L535.3,714.4 L538.8,713.2 L540.6,717.3 L536.5,717.3 L533,718.5 L535.3,720.9 L539.4,723.8 L538.8,726.1 L534.7,724.4 L532.4,723.2 L534.1,726.7 L535.9,730.2 L536.5,735.5 L539.4,737.3 L541.8,739 L542.3,743.7 L545.9,746.6 L544.7,748.4 L540,748.4 L537.7,746.1 L538.2,740.8 L535.9,739 L534.1,736.1 L530.6,736.1 L529.5,738.4 L527.1,737.9 L525.9,733.8 L524.2,730.2 L525.4,726.1 L528.3,724.4 L528.9,722 L525.9,720.9 L524.2,719.7 L522.4,722 L523.6,724.4 L521.8,729.1 L520.1,732.6 L519.5,735.5 L522.4,739.6 L525.9,743.7 L524.8,746.1 L520.1,747.2 L516.6,746.1 L513,747.8 L511.3,746.1 L512.5,743.1 L508.9,740.2 L506,742 L501.3,740.8 L499,743.1 L500.2,746.1 L499.6,749 L496.6,749.6 L494.3,751.9 L492.5,755.4 L490.8,754.3 L491.4,751.3 L488.4,750.2 L485.5,749.6 L482.6,750.2 L484.3,747.8 L487.3,746.6 L488.4,743.7 L486.7,741.4 L482.6,742 L479.1,743.7 L476.1,745.5 L472.6,746.6 L471.4,744.3 L475,743.7 L478.5,742 L481.4,740.2 L486.1,739.6 L490.2,740.8 L493.1,739 L494.9,736.7 L491.4,736.1 L491.4,734.3 L494.9,733.2 L496.1,730.2 L495.5,726.1 L493.1,727.3 L490.2,729.7 L489,732 L486.7,730.8 L485.5,727.3 L488.4,726.7 L491.4,725 L493.7,721.4 L492.5,717.3 L494.9,714.4 L496.1,711.5 L499,710.9 L497.2,708.6 L493.7,709.1 L490.2,711.5 L488.4,709.1 L489.6,706.2 L486.7,705 L483.8,706.2 L483.2,710.3 L480.2,709.1 L478.5,710.3 L476.1,709.1 L476.7,706.8 L479.1,705.6 L478.5,702.7 L482,701.5 L483.8,699.8 L486.7,699.8 L487.3,702.7 L490.2,703.9 L493.7,703.3 L494.9,699.8 L492.5,698 L494.3,695.1 L493.7,691 L496.1,689.2 L494.9,686.3 L491.4,686.9 L489.6,684.5 L490.8,682.2 L489.6,679.3 L491.4,676.3 L492,671.6 L495.5,672.2 L499,671.6 L500.7,668.7 L503.7,667.5 L505.4,669.3 L508.9,668.7 L510.7,665.2 L511.3,660.5 L514.2,658.8 L516.6,655.2 L517.7,651.1ZM493.7,676.3 L497.2,675.2 L498.4,678.7 L496.6,682.8 L493.7,683.9 L493.1,680.4ZM501.9,669.9 L504.3,670.2 L504.3,673.4 L501.6,673.4Z" fill="#0a28b4" fill-rule="evenodd" stroke="#2a2a2a" stroke-width="0.7" stroke-linejoin="round"/>
<path d="M224.5,583 L227.8,581.9 L230,584.6 L231.2,586.9 L234.5,585.8 L236.2,586.9 L237.8,585.8 L240.6,581.3 L244.5,580.2 L246.2,576.3 L247.9,573.5 L244,572.9 L242.9,569.6 L244,566.8 L247.9,565.7 L250.7,564.6 L250.1,560.7 L252.9,557.3 L256.3,556.2 L257.4,560.7 L259.6,561.8 L259,564.6 L262.9,565.7 L268,566.2 L270.8,568.5 L273.5,570.7 L276.9,571.3 L276.9,567.4 L279.1,566.8 L280.8,562.9 L283.6,561.8 L284.1,564 L281.9,566.8 L283,570.7 L280.8,572.4 L278.6,575.2 L278,578.5 L278.6,581.9 L276.9,579.6 L275.2,577.9 L272.4,579.6 L271.9,581.3 L268,581.3 L268,584.1 L269.1,585.8 L266.9,588.5 L262.4,590.8 L257.9,595.2 L254.6,599.1 L251.8,600.3 L249.6,599.1 L246.8,601.9 L246.2,606.4 L244,607.5 L246.2,610.9 L246.8,612 L244,612.5 L242.9,609.2 L241.8,606.4 L241.8,602.5 L244,600.8 L240.6,599.7 L237.8,598.6 L235.6,600.3 L232.3,601.4 L228.9,603 L225.6,605.3 L224.5,604.7 L224.5,599.7 L227.8,598 L231.2,599.1 L235.6,598.6 L239.5,596.9 L244,595.2 L248.4,595.8 L249.6,594.1 L246.2,592.5 L241.8,590.8 L237.8,589.7 L235.6,589.7 L234.5,593 L231.2,593 L228.4,590.8 L225.6,591.3 L224.5,589.7Z" fill="#a9a9a9" fill-rule="evenodd" stroke="#2a2a2a" stroke-width="0.7" stroke-linejoin="round"/>
<path d="M321,541.1 L324.3,543.9 L328.2,546.2 L329.9,543.4 L326.5,540 L330.4,541.1 L333.8,540 L337.1,540.6 L339.9,544.5 L337.7,546.7 L336,543.9 L332.7,543.4 L331,546.2 L327.7,547.8 L326,550.6 L323.7,551.7 L327.1,554 L330.4,554 L332.1,556.8 L329.9,557.3 L328.8,560.1 L329.9,565.1 L332.7,568.5 L336,566.8 L338.3,567.4 L340.5,562.9 L337.1,562.9 L334.3,562.3 L337.1,559 L338.8,555.6 L341.6,554 L341,557.3 L339.9,560.1 L342.7,561.2 L342.2,556.8 L344.9,555.6 L346.1,559 L349.4,560.7 L347.2,562.9 L345.5,565.7 L347.7,569.6 L344.9,571.3 L342.7,573.5 L344.9,577.4 L347.2,579.1 L349.4,576.3 L350,579.6 L351.1,582.4 L347.7,584.6 L344.9,588 L342.7,591.3 L339.4,593.6 L336,596.4 L334.3,598.6 L330.4,599.7 L329.9,597.5 L327.1,598 L326,601.4 L324.3,600.8 L324.3,596.4 L321,595.8 L319.3,598.6 L318.7,601.9 L317.6,600.8 L317.6,596.4 L319.3,594.7 L323.7,594.1 L326,591.9 L329.3,588.5 L330.4,584.1 L329.9,580.7 L327.1,581.9 L323.7,584.6 L319.8,585.8 L318.2,587.4 L314.8,588 L312.6,585.8 L310.4,587.4 L308.1,586.9 L309.2,585.2 L312,583 L314.8,584.1 L318.2,580.7 L316.5,577.9 L314.3,574.6 L309.2,576.3 L311.5,574 L315.9,571.3 L321.5,567.9 L324.9,564.6 L326.5,561.2 L325.4,557.3 L323.2,554.5 L322.1,550.6 L321.5,546.2Z" fill="#a9a9a9" fill-rule="evenodd" stroke="#2a2a2a" stroke-width="0.7" stroke-linejoin="round"/>
<path d="M670.1,747 L671,743.5 L673.2,740.8 L675.4,742.6 L679.8,741.7 L680.6,739.5 L683.7,737.3 L688.5,736.4 L691.2,738.2 L689.4,743.5 L692.1,740.4 L696.4,739.1 L699.5,737.3 L704.4,738.6 L707,740.4 L709.6,740.8 L712.3,738.2 L713.3,739.1 L710.1,743 L711.8,746.1 L711.4,750.5 L709.2,753.1 L705.7,753.1 L702.6,754.9 L700,758 L697.3,761 L694.7,759.7 L692.9,757.1 L689.9,756.6 L688.1,754 L684.1,751.4 L680.6,750 L678,747.8 L674.5,746.1 L671.8,746.5ZM689,738.6 L691.2,739.1 L690.7,741.3 L689,743Z" fill="#0f96eb" fill-rule="evenodd" stroke="#2a2a2a" stroke-width="0.7" stroke-linejoin="round"/>
<path d="M632.3,790 L633.6,785.6 L635.8,783.4 L638.9,785.6 L638.9,788.3 L643.3,786.5 L646.4,787.4 L649,789.6 L650.3,792.7 L653,793.5 L657.8,791.8 L659.5,794.4 L662.6,795.3 L661.7,797.1 L659.1,797.5 L658.7,801.4 L662.6,802.3 L661.3,805.4 L657.8,807.2 L656.5,808.9 L656.9,805 L653.4,804.1 L649,803.6 L646.4,802.3 L644.6,805.4 L641.5,806.3 L642.8,803.6 L642,801.4 L643.3,799.3 L641.5,796.6 L639.3,794.9 L638.9,792.7 L636.7,790.9 L634.1,791.3Z" fill="#0a28b4" fill-rule="evenodd" stroke="#2a2a2a" stroke-width="0.7" stroke-linejoin="round"/>
<path d="M445.9,769.9 L446.9,770.2 L446.4,774.1 L445.1,777.3 L444.8,780.5 L446.6,781 L447.7,781.5 L446.6,783.6 L448.8,785.5 L450.6,784.7 L451.1,785.2 L448.8,787 L446.6,787.3 L444.5,788.9 L446.9,792 L446.4,792.8 L443.7,791.5 L441.4,793.1 L439.8,796.3 L438.2,796.5 L436.9,794.7 L434.5,794.9 L431.9,797.3 L430.3,800 L430.8,803.1 L431.9,804.2 L434.5,803.4 L433.7,808.4 L432.4,809.7 L430.3,807.9 L428.2,808.4 L427.7,810.5 L425.8,809.7 L425.3,807.3 L422.9,805.8 L420.3,807.1 L417.4,807.9 L418.7,810.8 L416.3,810 L414.2,808.4 L416.3,806.3 L419.2,805.5 L419,803.6 L417.1,802.3 L416.1,800.7 L417.7,798.4 L420.8,797.3 L425,796.5 L428.2,797.1 L430,796.5 L428.5,793.4 L430.8,791 L432.9,787.8 L433.2,784.7 L435.6,782 L437.4,780.5 L438.2,776.2 L439.8,776.5 L438.7,779.9 L439.3,782 L441.9,782.3 L442.4,779.4 L444,777.3 L445.1,772.5Z" fill="#0a64d2" fill-rule="evenodd" stroke="#2a2a2a" stroke-width="0.7" stroke-linejoin="round"/>
<path d="M817,632.6 L820.5,632.3 L822,635.5 L822.6,639 L823.4,642.5 L822.3,645.4 L821.7,647.2 L824.6,649.5 L826.4,653.1 L828.7,655.4 L829.6,659.5 L829.9,663 L831.7,666.5 L832.8,669.5 L835.2,671.5 L834.6,672.7 L831.1,672.4 L828.1,671.5 L825.2,672.1 L822.9,670.7 L819.9,668.3 L816.4,666.5 L813.5,664.8 L812.6,661.9 L810.8,657.5 L812.6,657.2 L813.5,653.1 L817,649.5 L817.9,646.6 L819.3,643.7 L820.8,641.3 L820.2,638.4 L818.8,635.5 L818.2,633.7Z" fill="#0a64d2" fill-rule="evenodd" stroke="#2a2a2a" stroke-width="0.7" stroke-linejoin="round"/>
<path d="M1029.8,383.3 L1035.3,383 L1040,388 L1046.3,389.5 L1050.9,391.1 L1056,392 L1056,436 L1050.9,435.6 L1046.3,434.1 L1040.8,433.3 L1033.8,443.4 L1029.1,445.8 L1025.2,441.1 L1022.8,436.4 L1027.5,435.6 L1032.2,436.4 L1034.5,430.9 L1033.8,427 L1027.5,426.3 L1027.5,423.1 L1033,423.1 L1035.3,417.7 L1030.6,413.8 L1024.4,413 L1021.3,410.6 L1015,413 L1011.1,409.1 L1002.5,405.9 L1001.3,404.4 L1004.8,401.3 L1006.4,389.5 L1011.9,387.2 L1021.3,385.6Z" fill="#5068b0" fill-rule="evenodd" stroke="#2a2a2a" stroke-width="0.7" stroke-linejoin="round"/>
<path d="M889.9,680 L893.2,679.1 L894.4,683.9 L893.2,690.8 L889.3,691.2 L890.5,685.9Z" fill="#a9a9a9" fill-rule="evenodd" stroke="#2a2a2a" stroke-width="0.7" stroke-linejoin="round"/>
</g>
<g transform="translate(98,44) scale(0.066406)"><g clip-path="url(#gclip)"><circle cx="512" cy="512" r="452" fill="url(#gblue)"/><path d="M660,92 L558,258 Q545,600 515,962 L1000,962 L1000,60 Z" fill="#fff"/><polygon points="575,240 662,95 770,150 800,185 740,200 650,215" fill="#2a9c34" stroke="#2a9c34" stroke-width="7" stroke-linejoin="round"/><polygon points="772,150 812,182 803,192" fill="#f4e40c" stroke="#f4e40c" stroke-width="7" stroke-linejoin="round"/><polygon points="590,255 680,215 795,190 805,300 760,290 690,262" fill="#e2102a" stroke="#e2102a" stroke-width="7" stroke-linejoin="round"/><polygon points="808,185 880,270 935,400 915,440 810,305" fill="#cfc2d4" stroke="#cfc2d4" stroke-width="7" stroke-linejoin="round"/><polygon points="600,275 700,275 795,320 800,345 720,415 660,340" fill="#2a9c34" stroke="#2a9c34" stroke-width="7" stroke-linejoin="round"/><polygon points="568,280 625,320 700,430 640,450 560,455" fill="#f4e40c" stroke="#f4e40c" stroke-width="7" stroke-linejoin="round"/><polygon points="725,425 805,350 915,445 880,520 805,600 770,520" fill="#f4e40c" stroke="#f4e40c" stroke-width="7" stroke-linejoin="round"/><polygon points="555,470 640,462 705,440 750,520 790,610 690,660 548,685" fill="#e2102a" stroke="#e2102a" stroke-width="7" stroke-linejoin="round"/><polygon points="935,415 962,450 960,495 935,470" fill="#2a9c34" stroke="#2a9c34" stroke-width="7" stroke-linejoin="round"/><polygon points="810,610 885,530 925,480 958,510 950,620 900,720 845,770" fill="#cfc2d4" stroke="#cfc2d4" stroke-width="7" stroke-linejoin="round"/><polygon points="548,700 690,675 800,625 838,780 760,870 640,935 520,962" fill="#17893a" stroke="#17893a" stroke-width="7" stroke-linejoin="round"/><polygon points="845,785 900,735 880,770 850,805" fill="#e2102a" stroke="#e2102a" stroke-width="7" stroke-linejoin="round"/><g fill="none" stroke="#fff" stroke-width="10.5" stroke-opacity="1"><path d="M455,80 Q340,150 318,240 Q312,340 400,415 Q470,455 555,455"/><path d="M558,258 Q330,280 160,385 Q100,440 65,500"/><path d="M558,258 Q400,390 295,605 Q240,730 213,835"/><path d="M558,258 L335,187"/><path d="M150,262 Q150,400 235,525 Q330,650 545,695"/><path d="M65,560 Q130,720 250,810 Q380,890 530,900"/><path d="M558,258 Q545,600 515,962"/><path d="M558,258 Q505,160 458,80"/><path d="M558,258 L662,92"/></g><circle cx="512" cy="512" r="452" fill="url(#gshade)"/></g></g><g class="h" font-weight="bold" font-size="13" fill="#303030"><text x="169.9" y="75.1" textLength="88.9" lengthAdjust="spacingAndGlyphs">ISTITUTO NAZIONALE</text><text x="169.9" y="89.2" textLength="135.4" lengthAdjust="spacingAndGlyphs">DI GEOFISICA E VULCANOLOGIA</text></g>
<g stroke="#000" stroke-width="0.85" fill="none">
<line x1="224.7" y1="35.8" x2="224.7" y2="987.3"/>
<line x1="748.9" y1="35.8" x2="748.9" y2="987.3"/>
<line x1="83.3" y1="518.3" x2="1172.3" y2="518.3"/>
</g>
<path d="M603.1,507.4 L607.3,520.3 L620.8,520.3 L609.9,528.2 L614,541 L603.1,533.1 L592.2,541 L596.3,528.2 L585.4,520.3 L598.9,520.3Z" fill="none" stroke="#000" stroke-width="3.8" stroke-linejoin="miter" stroke-miterlimit="10"/>
<g>
<path d="M73.5,25.9H1182.4V997.2H73.5Z M83.3,35.8H1172.3V987.3H83.3Z" fill="#fff" fill-rule="evenodd" stroke="none"/>
<rect x="83.3" y="25.9" width="141.2" height="9.9" fill="#000"/>
<rect x="749.2" y="25.9" width="423.1" height="9.9" fill="#000"/>
<rect x="83.3" y="987.3" width="141.2" height="9.9" fill="#000"/>
<rect x="749.2" y="987.3" width="423.1" height="9.9" fill="#000"/>
<rect x="73.5" y="35.8" width="9.8" height="482.2" fill="#000"/>
<rect x="1172.3" y="35.8" width="10.1" height="482.2" fill="#000"/>
<rect x="73.5" y="25.9" width="1108.9" height="971.3" fill="none" stroke="#000" stroke-width="1.2"/>
<path d="M83.3,25.9V997.2M1172.3,25.9V997.2M73.5,35.8H1182.4M73.5,987.3H1182.4" fill="none" stroke="#000" stroke-width="1.2"/>
</g>
<g class="h" font-size="23" fill="#000" stroke="#000" stroke-width="0.3" text-anchor="middle">
<text x="225.4" y="16.7">14°30'</text><text x="749.2" y="16.7">15°00'</text>
<text x="225.4" y="1023.4">14°30'</text><text x="749.2" y="1023.4">15°00'</text>
<text x="31.5" y="526.5">37°00'</text><text x="1223.5" y="526.5">37°00'</text>
</g>
<rect x="768.6" y="46.45" width="386.1" height="61.75" fill="#fff" stroke="#000" stroke-width="1.25"/>
<g class="h" font-size="12.2" fill="#000">
<text x="773.5" y="59.7" textLength="361" lengthAdjust="spacingAndGlyphs">Terremoto del 07-02-2016 02:41:59 (ora locale) Mw=3.3 Prof=5 km</text>
<text x="773.5" y="74.9" textLength="379.6" lengthAdjust="spacingAndGlyphs">Mappa preliminare delle intensità macrosismiche stimate nelle località</text>
<text x="773.5" y="90" textLength="369" lengthAdjust="spacingAndGlyphs">Dati non verificati estratti da 69 questionari compilati tramite Internet.</text>
<text x="773.5" y="105.2" textLength="288.5" lengthAdjust="spacingAndGlyphs">Ultimo aggiornamento: 20-12-2025 01:40 (ora locale)</text>
</g>
<rect x="1050.8" y="169.7" width="103.8" height="476.5" fill="#fff"/>
<rect x="1053.5" y="171.5" width="98.95" height="472.95" fill="#fff" stroke="#000" stroke-width="1.4"/>
<g class="d" font-weight="bold" font-size="12.3" fill="#000" text-anchor="middle">
<text x="1103.3" y="187.7" textLength="37.8" lengthAdjust="spacing">Scala</text>
<text x="1102.8" y="203.8" textLength="56.2" lengthAdjust="spacing">Mercalli</text>
<text x="1102.8" y="220" textLength="42.5" lengthAdjust="spacing">(MCS)</text>
</g>
<g class="d" font-weight="bold" font-size="11.8" text-anchor="middle" letter-spacing="0.45" stroke-width="0.3">
<rect x="1074.3" y="229.4" width="57.4" height="19.2" fill="#a9a9a9" stroke="#000" stroke-width="1.2"/>
<text x="1103.2" y="243.1" fill="#fff" stroke="#fff">n.a.*</text>
<rect x="1074.3" y="253.3" width="57.4" height="19.2" fill="#5068b0" stroke="#000" stroke-width="1.2"/>
<text x="1103.2" y="267" fill="#fff" stroke="#fff">II</text>
<rect x="1074.3" y="277.1" width="57.4" height="19.2" fill="#0028be" stroke="#00208f" stroke-width="1.2"/>
<text x="1103.2" y="290.8" fill="#fff" stroke="#fff">III</text>
<rect x="1074.3" y="301.3" width="57.4" height="19.2" fill="#0a64d2" stroke="#000" stroke-width="1.2"/>
<text x="1103.2" y="315" fill="#fff" stroke="#fff">III-IV</text>
<rect x="1074.3" y="325.2" width="57.4" height="19.2" fill="#0f96eb" stroke="#000" stroke-width="1.2"/>
<text x="1103.2" y="338.9" fill="#fff" stroke="#fff">IV</text>
<rect x="1074.3" y="349.4" width="57.4" height="19.2" fill="#0ac882" stroke="#000" stroke-width="1.2"/>
<text x="1103.2" y="363.1" fill="#000" stroke="#000">IV-V</text>
<rect x="1074.3" y="373.3" width="57.4" height="19.2" fill="#00f014" stroke="#000" stroke-width="1.2"/>
<text x="1103.2" y="387" fill="#000" stroke="#000">V</text>
<rect x="1074.3" y="397.3" width="57.4" height="19.2" fill="#bef50a" stroke="#000" stroke-width="1.2"/>
<text x="1103.2" y="411" fill="#000" stroke="#000">V-VI</text>
<rect x="1074.3" y="422.3" width="57.4" height="19.2" fill="#fff50f" stroke="#000" stroke-width="1.2"/>
<text x="1103.2" y="436" fill="#000" stroke="#000">VI</text>
<rect x="1074.3" y="446.3" width="57.4" height="19.2" fill="#ffc80a" stroke="#000" stroke-width="1.2"/>
<text x="1103.2" y="460" fill="#000" stroke="#000">VI-VII</text>
<rect x="1074.3" y="470.6" width="57.4" height="19.2" fill="#ffa50a" stroke="#000" stroke-width="1.2"/>
<text x="1103.2" y="484.3" fill="#000" stroke="#000">VII</text>
<rect x="1074.3" y="494.3" width="57.4" height="19.2" fill="#ff6e00" stroke="#000" stroke-width="1.2"/>
<text x="1103.2" y="508" fill="#000" stroke="#000">VII-VIII</text>
<rect x="1074.3" y="518.4" width="57.4" height="19.2" fill="#ff0a0a" stroke="#000" stroke-width="1.2"/>
<text x="1103.2" y="532.1" fill="#000" stroke="#000">VIII</text>
</g>
<text class="d" x="1058" y="557.4" font-size="12.3" fill="#111" textLength="91.2" lengthAdjust="spacing">*non avvertito</text>
<line x1="1053.5" y1="568.3" x2="1150" y2="568.3" stroke="#000" stroke-width="0.8" stroke-dasharray="2.2,2.2"/>
<g class="d" font-weight="bold" font-size="12.3" fill="#000" text-anchor="middle">
<text x="1102.4" y="583.7" textLength="67.5" lengthAdjust="spacing">Epicentro</text>
<text x="1102.2" y="599.5" textLength="87.7" lengthAdjust="spacing">strumentale</text>
</g>
<path d="M1100.6,613.2 L1102.7,619.7 L1109.5,619.7 L1104,623.7 L1106.1,630.2 L1100.6,626.2 L1095.1,630.2 L1097.2,623.7 L1091.7,619.7 L1098.5,619.7Z" fill="#fff" stroke="#000" stroke-width="1" stroke-linejoin="miter"/>
<g>
<rect x="128.5" y="929.7" width="59.4" height="5.8" fill="#000"/>
<rect x="187.9" y="929.7" width="58.4" height="5.8" fill="#fff"/>
<rect x="246.3" y="929.7" width="59.6" height="5.8" fill="#000"/>
<rect x="305.9" y="929.7" width="58.7" height="5.8" fill="#fff"/>
<rect x="128.5" y="929.7" width="236.1" height="5.8" fill="none" stroke="#000" stroke-width="0.9"/>
<path d="M128.5,929.7V939.6M246.3,929.7V939.6M364.6,929.7V939.6M187.9,935.5V937.6M305.9,935.5V937.6" stroke="#000" stroke-width="0.9" fill="none"/>
<g class="h" fill="#000" stroke="#000" stroke-width="0.3" text-anchor="middle"><text x="246.4" y="914.9" font-size="30">km</text>
<text x="128.5" y="963.9" font-size="23">0</text><text x="246.3" y="963.9" font-size="23">10</text><text x="364.1" y="963.9" font-size="23">20</text></g>
</g>
<g><path id="hsitc" d="M1138.3,916.1 A42.5,42.5 0 1 1 1053.3,916.1 A42.5,42.5 0 1 1 1138.3,916.1" fill="none" stroke="none"/><circle cx="1095.8" cy="916.1" r="32.8" fill="#1d1d1b"/><circle cx="1095.8" cy="916.1" r="18.85" fill="none" stroke="#e2061c" stroke-width="6.9"/><circle cx="1095.8" cy="916.1" r="7.9" fill="#e2061c"/><path d="M1102.9,909.9 L1127.6,900.6 Q1131,899.8 1131,903.4 L1131,930.9 Q1131,934.6 1127.6,933.7 L1101.6,923.6 Z" fill="url(#wedge)"/><circle cx="1146" cy="916.4" r="8.9" fill="#e2061c"/><text class="h" font-weight="bold" font-size="18" fill="#fff" stroke="#fff" stroke-width="0.5" text-anchor="middle" transform="translate(1139.8,916.4) rotate(90)">?</text><g class="h" font-size="20"><text font-weight="bold" fill="#e2061c" stroke="#e2061c" stroke-width="0.5"><textPath href="#hsitc" startOffset="18.2" textLength="45.6" lengthAdjust="spacingAndGlyphs">www.</textPath></text><text fill="#1d1d1b"><textPath href="#hsitc" startOffset="64.9" textLength="21.1" lengthAdjust="spacingAndGlyphs">hai</textPath></text><text font-weight="bold" fill="#1d1d1b" stroke="#1d1d1b" stroke-width="0.5"><textPath href="#hsitc" startOffset="87.2" textLength="54.9" lengthAdjust="spacingAndGlyphs">sentito</textPath></text><text font-style="italic" fill="#1d1d1b"><textPath href="#hsitc" startOffset="142.8" textLength="10.0" lengthAdjust="spacingAndGlyphs">il</textPath></text><text font-weight="bold" fill="#1d1d1b" stroke="#1d1d1b" stroke-width="0.5"><textPath href="#hsitc" startOffset="153.2" textLength="79.0" lengthAdjust="spacingAndGlyphs">terremoto</textPath></text><text font-weight="bold" fill="#e2061c" stroke="#e2061c" stroke-width="0.5"><textPath href="#hsitc" startOffset="232.9" textLength="14.1" lengthAdjust="spacingAndGlyphs">.it</textPath></text></g></g>
</svg></body></html>
